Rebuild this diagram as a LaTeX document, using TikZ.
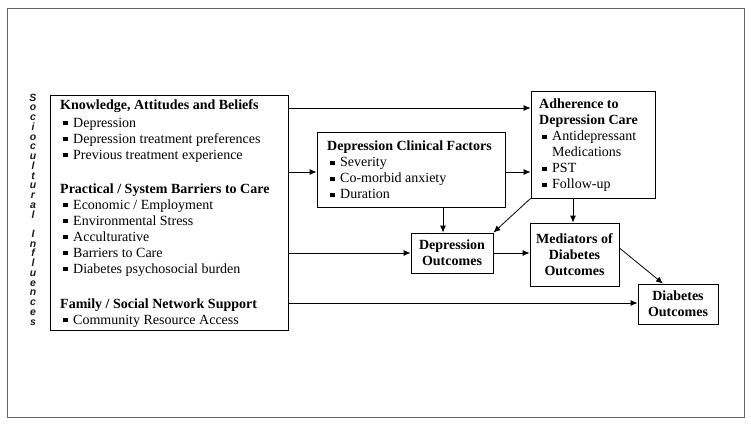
\documentclass[tikz,border=0pt]{standalone}
\usepackage{fontspec}
\setmainfont{Liberation Serif}
\newfontfamily\sidefont{Liberation Sans}
\usetikzlibrary{arrows.meta}
\newcommand{\bi}{\makebox[13pt][l]{\hspace{3pt}\rule[1.6pt]{4.3pt}{4.3pt}}}
\begin{document}
\begin{tikzpicture}[x=1pt,y=-1pt,
  box/.style={draw, line width=0.8pt, rectangle, inner sep=0pt},
  arr/.style={-{Latex[length=7pt,width=6pt]}, line width=0.8pt},
  txt/.style={anchor=north west, align=left, inner sep=0pt, font=\fontsize{14}{16}\selectfont},
  ctxt/.style={align=center, font=\fontsize{14}{16}\selectfont\bfseries},
  side/.style={inner sep=0pt, text height=7pt, text depth=0.5pt, font=\sidefont\fontsize{10.5}{10.5}\selectfont\bfseries\itshape, text=black!90}]
\useasboundingbox (0,0) rectangle (751,426);
\draw[line width=0.8pt, black!60] (7,8) rectangle (744,417);
% boxes
\node[box, minimum width=238pt, minimum height=235pt] (kab) at (169,212.5) {};
\node[box, minimum width=188pt, minimum height=75pt] (clin) at (411,169.5) {};
\node[box, minimum width=124pt, minimum height=107pt] (adh) at (593,144.5) {};
\node[box, minimum width=82pt, minimum height=40pt, ctxt] (dout) at (452,253) {Depression\\Outcomes};
\node[box, minimum width=89pt, minimum height=63pt, ctxt] (med) at (574.5,254.5) {Mediators of\\Diabetes\\Outcomes};
\node[box, minimum width=80pt, minimum height=40pt, ctxt] (diab) at (678,304) {Diabetes\\Outcomes};
% texts
\node[txt] (kabt) at (60,99) {\textbf{Knowledge, Attitudes and Beliefs}\\[2pt]
\bi Depression\\
\bi Depression treatment preferences\\
\bi Previous treatment experience\\[18pt]
\textbf{Practical / System Barriers to Care}\\
\bi Economic / Employment\\
\bi Environmental Stress\\
\bi Acculturative\\
\bi Barriers to Care\\
\bi Diabetes psychosocial burden\\[19pt]
\textbf{Family / Social Network Support}\\
\bi Community Resource Access};
\node[txt] (clint) at (327,141) {\textbf{Depression Clinical Factors}\\
\bi Severity\\
\bi Co-morbid anxiety\\
\bi Duration};
\node[txt] (adht) at (539,99) {\textbf{Adherence to}\\
\textbf{Depression Care}\\
\bi Antidepressant\\
\hspace{13pt}Medications\\
\bi PST\\
\bi Follow-up};
% side label
\foreach \ch [count=\i from 0] in {S,o,c,i,o,c,u,l,t,u,r,a,l} {
  \node[side] (sa\i) at (33,{98+9.73*\i}) {\ch};
}
\foreach \ch [count=\i from 14] in {I,n,f,l,u,e,n,c,e,s} {
  \node[side] (sb\i) at (33,{98+9.73*\i}) {\ch};
}
% arrows
\draw[arr] (kab.east |- 0,108) -- (adh.west |- 0,108);
\draw[arr] (kab.east |- 0,172) -- (clin.west |- 0,172);
\draw[arr] (clin.east |- 0,172) -- (adh.west |- 0,172);
\draw[arr] (clin.south -| 443,0) -- (dout.north -| 443,0);
\draw[arr] (adh.south west) -- (dout.north east);
\draw[arr] (kab.east |- 0,253) -- (dout.west |- 0,253);
\draw[arr] (dout.east) -- (med.west |- dout.east);
\draw[arr] (adh.south -| 573,0) -- (med.north -| 573,0);
\draw[arr] (med.east |- 0,248) -- (diab.north -| 663,0);
\draw[arr] (kab.east |- 0,303) -- (diab.west |- 0,303);
\end{tikzpicture}
\end{document}
